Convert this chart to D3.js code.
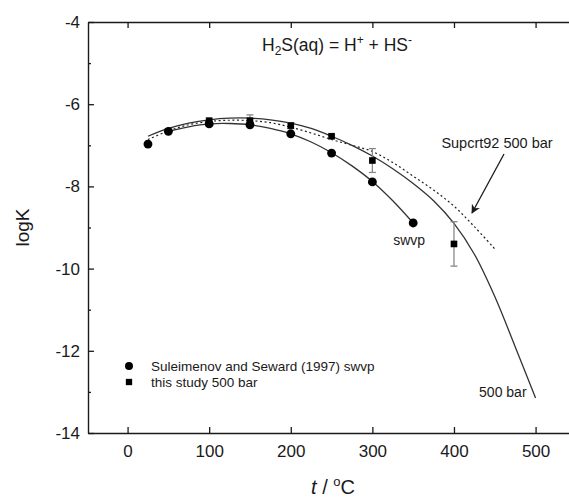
<!DOCTYPE html>
<html>
<head>
<meta charset="utf-8">
<script src="https://cdn.jsdelivr.net/npm/d3@7"></script>
<style>
  html, body { margin: 0; padding: 0; background: #fff; }
  svg { display: block; font-family: "Liberation Sans", Arial, sans-serif; }
</style>
</head>
<body>
<svg id="chart" width="569" height="500"></svg>
<script>
// ---------- data ----------
const xTicks = [0, 100, 200, 300, 400, 500];
const yTicks = [-14, -12, -10, -8, -6, -4];
const yMinorTicks = [-13, -11, -9, -7, -5];

// Suleimenov and Seward (1997), swvp (circles)
const swvpT = [25, 50, 100, 150, 200, 250, 300, 350];
const swvpLogK = [-6.97, -6.66, -6.48, -6.50, -6.72, -7.19, -7.89, -8.89];

// this study, 500 bar (squares with error bars)
const studyT = [100, 150, 200, 250, 300, 400];
const studyLogK = [-6.40, -6.40, -6.52, -6.78, -7.37, -9.40];
const studyErr = [0, 0.14, 0.07, 0, 0.29, 0.54];

// fitted curve, 500 bar (solid)
const fit500T = [25, 50, 75, 100, 125, 150, 175, 200, 225, 250, 275, 300, 325, 350, 375, 400, 425, 450, 475, 500];
const fit500LogK = [-6.78, -6.59, -6.46, -6.38, -6.34, -6.34, -6.38, -6.46, -6.59, -6.78, -7.00, -7.26, -7.57, -7.93, -8.35, -8.90, -9.65, -10.68, -11.90, -13.15];

// fitted curve, swvp (solid)
const fitSwvpT = [50, 75, 100, 125, 150, 175, 200, 225, 250, 275, 300, 325, 350];
const fitSwvpLogK = [-6.66, -6.55, -6.48, -6.47, -6.50, -6.59, -6.72, -6.92, -7.18, -7.50, -7.88, -8.35, -8.89];

// Supcrt92 500 bar (dotted)
const supT = [25, 50, 75, 100, 125, 150, 175, 200, 225, 250, 275, 300, 325, 350, 375, 400, 425, 450];
const supLogK = [-6.86, -6.65, -6.50, -6.42, -6.39, -6.40, -6.45, -6.56, -6.70, -6.86, -7.00, -7.15, -7.42, -7.75, -8.09, -8.48, -8.98, -9.52];

const legendLabels = ["Suleimenov and Seward (1997) swvp", "this study 500 bar"];

// ---------- layout ----------
const svg = d3.select("#chart");
svg.append("rect").attr("width", 569).attr("height", 500).attr("fill", "#fff");

const pLeft = 88, pTop = 22, pBottom = 433;
const x = d3.scaleLinear().domain([-48.5, 550]).range([pLeft, pLeft + 598.5 * 0.816]);
const y = d3.scaleLinear().domain([-14, -4]).range([pBottom, pTop]);

const ink = "#1a1a1a";
const fontTick = 17;

// axes
const gx = svg.append("g").attr("transform", `translate(0,${pBottom})`)
  .call(d3.axisBottom(x).tickValues(xTicks).tickSizeInner(-6).tickSizeOuter(0).tickPadding(12).tickFormat(d3.format("d")));
const gxTop = svg.append("g").attr("transform", `translate(0,${pTop})`)
  .call(d3.axisTop(x).tickValues(xTicks).tickSizeInner(-6).tickSizeOuter(0).tickFormat(""));
const gy = svg.append("g").attr("transform", `translate(${pLeft},0)`)
  .call(d3.axisLeft(y).tickValues(yTicks).tickSizeInner(-6).tickSizeOuter(0).tickPadding(8).tickFormat(d3.format("d")));
const gyMinor = svg.append("g").attr("transform", `translate(${pLeft},0)`)
  .call(d3.axisLeft(y).tickValues(yMinorTicks).tickSizeInner(-3).tickSizeOuter(0).tickFormat(""));

[gx, gxTop, gy, gyMinor].forEach(g => {
  g.selectAll("path.domain").attr("stroke", ink).attr("stroke-width", 1.4);
  g.selectAll(".tick line").attr("stroke", ink).attr("stroke-width", 1.3);
  g.selectAll(".tick text").attr("fill", ink).attr("font-size", fontTick)
    .attr("font-family", "Liberation Sans, Arial, sans-serif");
});
gyMinor.select("path.domain").remove();
gy.selectAll(".tick text").text(d => String(d));

// axis titles
svg.append("text")
  .attr("transform", `translate(29,${(pTop + pBottom) / 2}) rotate(-90)`)
  .attr("text-anchor", "middle").attr("font-size", 19).attr("fill", ink)
  .text("logK");

const xt = svg.append("text")
  .attr("x", 333).attr("y", 494).attr("text-anchor", "middle")
  .attr("font-size", 20).attr("fill", ink);
xt.append("tspan").attr("font-style", "italic").text("t");
xt.append("tspan").text(" / ");
xt.append("tspan").attr("font-size", 13).attr("dy", -8).text("o");
xt.append("tspan").attr("dy", 8).text("C");

// title
const tt = svg.append("text").attr("x", 412).attr("y", 51).attr("text-anchor", "end")
  .attr("font-size", 17.5).attr("fill", ink);
tt.append("tspan").text("H");
tt.append("tspan").attr("font-size", 12).attr("dy", 4).text("2");
tt.append("tspan").attr("dy", -4).text("S(aq) = H");
tt.append("tspan").attr("font-size", 12).attr("dy", -7).text("+");
tt.append("tspan").attr("dy", 7).text(" + HS");
tt.append("tspan").attr("font-size", 12).attr("dy", -7).text("-");

// clip to plot
svg.append("clipPath").attr("id", "plotClip").append("rect")
  .attr("x", pLeft).attr("y", pTop).attr("width", 569 - pLeft).attr("height", pBottom - pTop);
const plot = svg.append("g").attr("clip-path", "url(#plotClip)");

const line = d3.line().curve(d3.curveCatmullRom.alpha(0.5)).x(d => x(d[0])).y(d => y(d[1]));

plot.append("path").datum(d3.zip(supT, supLogK)).attr("d", line)
  .attr("fill", "none").attr("stroke", "#222").attr("stroke-width", 1.2).attr("stroke-dasharray", "2,2.6");
plot.append("path").datum(d3.zip(fit500T, fit500LogK)).attr("d", line)
  .attr("fill", "none").attr("stroke", "#333").attr("stroke-width", 1.3);
plot.append("path").datum(d3.zip(fitSwvpT, fitSwvpLogK)).attr("d", line)
  .attr("fill", "none").attr("stroke", "#333").attr("stroke-width", 1.3);

// error bars
const errData = d3.zip(studyT, studyLogK, studyErr).filter(d => d[2] > 0);
const eb = plot.append("g").attr("stroke", "#888").attr("stroke-width", 1.3);
eb.selectAll("line.v").data(errData).join("line").attr("class", "v")
  .attr("x1", d => x(d[0])).attr("x2", d => x(d[0]))
  .attr("y1", d => y(d[1] + d[2])).attr("y2", d => y(d[1] - d[2]));
eb.selectAll("line.t").data(errData).join("line").attr("class", "t")
  .attr("x1", d => x(d[0]) - 3.5).attr("x2", d => x(d[0]) + 3.5)
  .attr("y1", d => y(d[1] + d[2])).attr("y2", d => y(d[1] + d[2]));
eb.selectAll("line.b").data(errData).join("line").attr("class", "b")
  .attr("x1", d => x(d[0]) - 3.5).attr("x2", d => x(d[0]) + 3.5)
  .attr("y1", d => y(d[1] - d[2])).attr("y2", d => y(d[1] - d[2]));

// markers
plot.selectAll("path.circ").data(d3.zip(swvpT, swvpLogK)).join("path").attr("class", "circ")
  .attr("transform", d => `translate(${x(d[0])},${y(d[1])})`)
  .attr("d", d3.symbol().type(d3.symbolCircle).size(62)()).attr("fill", "#000");
plot.selectAll("path.sq").data(d3.zip(studyT, studyLogK)).join("path").attr("class", "sq")
  .attr("transform", d => `translate(${x(d[0])},${y(d[1])})`)
  .attr("d", d3.symbol().type(d3.symbolSquare).size(44)()).attr("fill", "#000");

// annotations
const annFont = 14;
svg.append("text").attr("x", x(350) - 4).attr("y", y(-8.89) + 22).attr("text-anchor", "middle")
  .attr("font-size", annFont).attr("fill", ink).text("swvp");
svg.append("text").attr("x", x(500) - 9).attr("y", y(-13.15) - 1).attr("text-anchor", "end")
  .attr("font-size", annFont).attr("fill", ink).text("500 bar");
svg.append("text").attr("x", 497).attr("y", 148).attr("text-anchor", "middle")
  .attr("font-size", 14.5).attr("fill", ink).text("Supcrt92 500 bar");

// arrow
svg.append("defs").append("marker").attr("id", "arrowHead")
  .attr("viewBox", "0 0 10 10").attr("refX", 9).attr("refY", 5)
  .attr("markerWidth", 7).attr("markerHeight", 7).attr("orient", "auto")
  .append("path").attr("d", "M0,0 L10,5 L0,10 L3,5 Z").attr("fill", ink);
svg.append("line").attr("x1", 504).attr("y1", 154).attr("x2", 472).attr("y2", 213)
  .attr("stroke", ink).attr("stroke-width", 1.3).attr("marker-end", "url(#arrowHead)");

// legend
const lg = svg.append("g").attr("font-size", 13.5).attr("fill", ink);
lg.append("path").attr("transform", "translate(129,366)")
  .attr("d", d3.symbol().type(d3.symbolCircle).size(50)()).attr("fill", "#000");
lg.append("path").attr("transform", "translate(129,382)")
  .attr("d", d3.symbol().type(d3.symbolSquare).size(40)()).attr("fill", "#000");
lg.append("text").attr("x", 151).attr("y", 371).text(legendLabels[0]);
lg.append("text").attr("x", 151).attr("y", 387).text(legendLabels[1]);
</script>
</body>
</html>
